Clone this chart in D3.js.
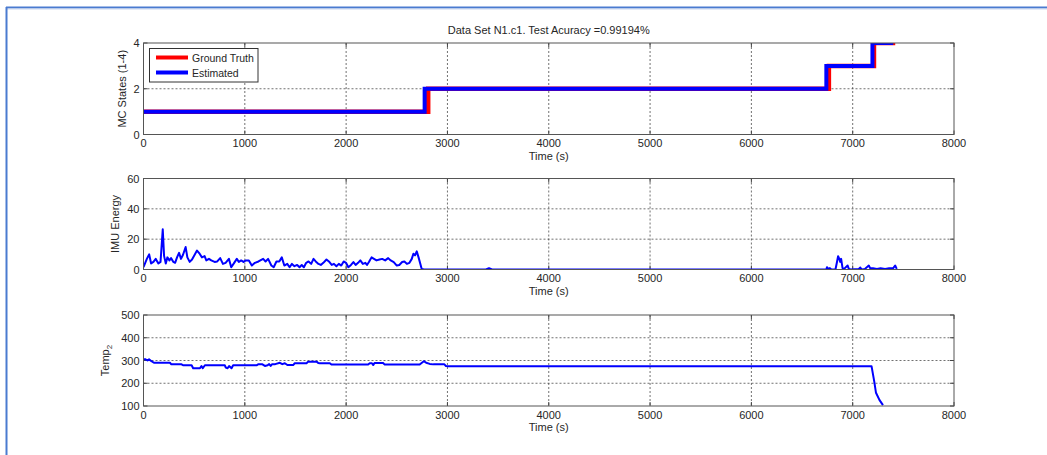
<!DOCTYPE html>
<html>
<head>
<meta charset="utf-8">
<script src="https://d3js.org/d3.v7.min.js"></script>
<style>
  body { margin: 0; background: #fff; }
  text { font-family: "Liberation Sans", Arial, sans-serif; font-size: 11px; fill: #262626; }
</style>
</head>
<body>
<svg id="fig" width="1047" height="455"></svg>
<script>
// ---- data ----
const titleText = "Data Set N1.c1. Test Acuracy =0.99194%";
const xTicks = [0, 1000, 2000, 3000, 4000, 5000, 6000, 7000, 8000];

// state changes (time, state) -- drawn as steps
const truthT = [0, 2810, 6765, 7210, 7420];
const truthS = [1, 2, 3, 4, 4];
const estT = [0, 2775, 6740, 7195, 7400];
const estS = [1, 2, 3, 4, 4];
const stateTicks = [0, 2, 4];

const imuT = [0,33,56,75,98,121,147,168,190,203,220,236,256,272,295,312,331,351,370,390,416,433,456,479,505,528,554,577,603,620,646,669,702,728,757,784,810,843,866,895,921,941,964,987,1010,1040,1069,1100,1135,1181,1205,1230,1262,1285,1312,1340,1365,1390,1419,1442,1465,1490,1517,1540,1562,1583,1606,1629,1655,1678,1700,1727,1750,1775,1806,1830,1858,1880,1904,1928,1952,1976,1999,2022,2048,2072,2094,2118,2140,2165,2190,2206,2225,2251,2275,2300,2330,2356,2385,2415,2440,2470,2500,2525,2553,2575,2600,2625,2648,2664,2680,2697,2715,2746,2770,3380,3410,3440,6740,6746,6760,6775,6790,6830,6845,6856,6868,6877,6886,6900,6915,6950,6962,6980,7060,7075,7090,7120,7159,7172,7200,7240,7275,7320,7360,7400,7419,7435];
const imuV = [1.5,7,10,4,5,7,4,5,26.5,9,4,8,6,7.5,5,4.4,8,11,7,9.7,14.8,8,5,6.6,9.7,12.5,10.4,8,8.8,6,7,6,5,5.3,7.5,3.7,4.4,7,1.5,4.4,7,5,6,5,6,6,2.6,4.4,5.3,7,5.3,7,2.6,1.5,5.3,5.3,8,2.6,3.7,1.5,3.7,2.2,3,1.5,3,1.5,4.4,5.3,3.7,7,5.3,3.7,3,4.4,6.6,5.3,3,3.7,2.2,3.7,2.6,5.3,4.4,1.5,3,4.9,3,4.4,6,3.7,4.4,3,4.9,8,7,6,6.6,7,6,7.5,6,4.9,2.6,3,4.9,5.3,3.7,4.4,7,10.4,9.3,12,8,0.4,0,0,0.9,0,0,1.5,0.4,0.9,0,0,4.9,8.8,7,5,7,0.9,0.4,2.6,0.4,0,0.4,1.3,0,0.4,2.6,0.9,0.9,0.4,0.9,0.4,0.9,0.9,2.6,0.4];
const imuTicks = [0, 20, 40, 60];

const tempT = [0,20,40,55,75,103,261,275,376,390,475,490,557,572,585,606,803,812,830,845,869,885,1116,1135,1170,1198,1225,1240,1255,1270,1300,1346,1370,1395,1420,1477,1493,1609,1625,1709,1725,1740,1839,1855,2217,2233,2255,2268,2280,2365,2381,2726,2748,2767,2790,2825,2860,2970,2985,3010,7186,7213,7230,7265,7299];
const tempV = [306,305,300,305,298,290,290,283,283,279,279,266,266,276,266,279,279,269,266,276,266,279,279,284,284,276,279,284,276,284,284,290,284,288,280,280,288,288,295,295,289,288,288,282,282,288,288,280,289,289,282,282,290,297,290,285,283,283,276,275,275,207,158,126,104];
const tempTicks = [100, 200, 300, 400, 500];

// ---- layout ----
const svg = d3.select("#fig");
const left = 143.5, right = 954;
const panels = [
  {top: 43, bottom: 134.5, domain: [0, 4], ticks: stateTicks, label: "MC States (1-4)", labelX: 126},
  {top: 178.5, bottom: 269.5, domain: [0, 60], ticks: imuTicks, label: "IMU Energy", labelX: 118.5},
  {top: 315, bottom: 406, domain: [100, 500], ticks: tempTicks, label: "Temp", sub: "2", labelX: 108.5}
];

// window frame
svg.append("line").attr("x1", 6).attr("x2", 1047).attr("y1", 7.5).attr("y2", 7.5)
  .style("stroke", "#4a7bd0").style("stroke-width", 2);
svg.append("line").attr("x1", 6).attr("x2", 1047).attr("y1", 9).attr("y2", 9)
  .style("stroke", "#c9d6ee").style("stroke-width", 1);
svg.append("line").attr("x1", 6.5).attr("x2", 6.5).attr("y1", 7).attr("y2", 455)
  .style("stroke", "#4a7bd0").style("stroke-width", 2);

const x = d3.scaleLinear().domain([0, 8000]).range([left, right]);

panels.forEach((p, i) => {
  p.y = d3.scaleLinear().domain(p.domain).range([p.bottom, p.top]);
  const g = svg.append("g");

  g.append("clipPath").attr("id", "clip" + i)
    .append("rect").attr("x", left).attr("y", p.top)
    .attr("width", right - left).attr("height", p.bottom - p.top);

  // grid
  xTicks.slice(1, -1).forEach(t => {
    g.append("line").attr("x1", x(t)).attr("x2", x(t)).attr("y1", p.top).attr("y2", p.bottom)
      .style("stroke", "#333").style("stroke-width", 0.7).style("stroke-dasharray", "2,2");
  });
  p.ticks.slice(1, -1).forEach(t => {
    g.append("line").attr("x1", left).attr("x2", right).attr("y1", p.y(t)).attr("y2", p.y(t))
      .style("stroke", "#333").style("stroke-width", 0.7).style("stroke-dasharray", "2,2");
  });

  // ticks (inside, all four sides)
  xTicks.forEach(t => {
    g.append("line").attr("x1", x(t)).attr("x2", x(t)).attr("y1", p.bottom).attr("y2", p.bottom - 4)
      .style("stroke", "#444");
    g.append("line").attr("x1", x(t)).attr("x2", x(t)).attr("y1", p.top).attr("y2", p.top + 4)
      .style("stroke", "#444");
    g.append("text").text(t).attr("x", x(t)).attr("y", p.bottom + 12.5)
      .style("text-anchor", "middle");
  });
  p.ticks.forEach(t => {
    g.append("line").attr("x1", left).attr("x2", left + 4).attr("y1", p.y(t)).attr("y2", p.y(t))
      .style("stroke", "#444");
    g.append("line").attr("x1", right).attr("x2", right - 4).attr("y1", p.y(t)).attr("y2", p.y(t))
      .style("stroke", "#444");
    g.append("text").text(t).attr("x", left - 4).attr("y", p.y(t) + 4)
      .style("text-anchor", "end");
  });

  g.append("text").text("Time (s)").attr("x", (left + right) / 2).attr("y", p.bottom + 25)
    .style("text-anchor", "middle");

  const yl = g.append("text")
    .attr("transform", "translate(" + p.labelX + "," + (p.top + p.bottom) / 2 + ") rotate(-90)")
    .style("text-anchor", "middle");
  yl.append("tspan").text(p.label);
  if (p.sub) yl.append("tspan").text(p.sub).attr("dy", 3).style("font-size", "8px");

  p.g = g;
});

// panel 1: states
const stepLine = d3.line().x(d => x(d[0])).y(d => panels[0].y(d[1])).curve(d3.curveStepAfter);
const truth = truthT.map((t, i) => [t, truthS[i]]);
const est = estT.map((t, i) => [t, estS[i]]);
panels[0].g.append("path").datum(truth).attr("d", stepLine).attr("clip-path", "url(#clip0)")
  .style("fill", "none").style("stroke", "#ff0000").style("stroke-width", 4.5);
panels[0].g.append("path").datum(est).attr("d", stepLine).attr("clip-path", "url(#clip0)")
  .style("fill", "none").style("stroke", "#0000ff").style("stroke-width", 4);

// panel 2: imu energy
const imuLine = d3.line().x(d => x(d[0])).y(d => panels[1].y(d[1]));
panels[1].g.append("path").datum(imuT.map((t, i) => [t, imuV[i]])).attr("d", imuLine)
  .attr("clip-path", "url(#clip1)")
  .style("fill", "none").style("stroke", "#0000ff").style("stroke-width", 2).style("stroke-linejoin", "round");

// panel 3: temperature
const tempLine = d3.line().x(d => x(d[0])).y(d => panels[2].y(d[1]));
panels[2].g.append("path").datum(tempT.map((t, i) => [t, tempV[i]])).attr("d", tempLine)
  .attr("clip-path", "url(#clip2)")
  .style("fill", "none").style("stroke", "#0000ff").style("stroke-width", 2).style("stroke-linejoin", "round");

// axes boxes on top
panels.forEach(p => {
  p.g.append("rect").attr("x", left).attr("y", p.top).attr("width", right - left).attr("height", p.bottom - p.top)
    .style("fill", "none").style("stroke", "#555").style("stroke-width", 1);
});

// title
svg.append("text").text(titleText).attr("x", (left + right) / 2).attr("y", 33.5)
  .style("text-anchor", "middle");

// legend
const leg = svg.append("g");
leg.append("rect").attr("x", 149.5).attr("y", 48.5).attr("width", 108.5).attr("height", 33.5)
  .style("fill", "#fff").style("stroke", "#333").style("stroke-width", 1);
[["Ground Truth", "#ff0000", 57.5], ["Estimated", "#0000ff", 72.5]].forEach(d => {
  leg.append("line").attr("x1", 156).attr("x2", 188).attr("y1", d[2]).attr("y2", d[2])
    .style("stroke", d[1]).style("stroke-width", 4);
  leg.append("text").text(d[0]).attr("x", 192).attr("y", d[2] + 4).style("font-size", "10.5px");
});
</script>
</body>
</html>
